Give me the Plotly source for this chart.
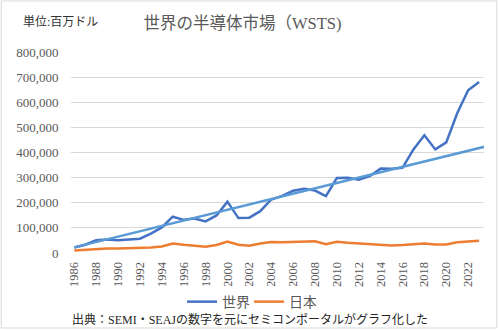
import plotly.graph_objects as go

years = list(range(1986, 2024))
world = [22000, 33000, 50500, 54000, 50500, 54600, 57000, 77300, 101900, 144400,
         132000, 137200, 125600, 149400, 204400, 139000, 140700, 166400, 213000, 227500,
         247700, 255600, 248600, 226300, 298300, 299500, 291600, 305600, 335800, 335200,
         338900, 412200, 468800, 412300, 440400, 555900, 648000, 681000]
japan = [10000, 13000, 16000, 18000, 18000, 19000, 19000, 22000, 26000, 38000,
         33000, 30000, 25000, 32000, 46000, 33000, 29000, 38000, 44000, 43000,
         45000, 47000, 47000, 35000, 45000, 41000, 38000, 34000, 34000, 30000,
         32000, 34000, 38000, 34000, 34000, 43000, 47000, 49000]
# linear trendline of 世界 (start and end)
trend_x = [1986, 2023.8]
trend_y = [22500, 426000]
y_ticks = [0, 100000, 200000, 300000, 400000, 500000, 600000, 700000, 800000]
x_ticks = list(range(1986, 2024, 2))

serif = "Liberation Serif, Noto Sans CJK JP, serif"

fig = go.Figure()
fig.add_trace(go.Scatter(x=years, y=world, mode="lines", name="世界",
                         line=dict(color="#4472C4", width=2.5)))
fig.add_trace(go.Scatter(x=years, y=japan, mode="lines", name="日本",
                         line=dict(color="#ED7D31", width=2.5)))
fig.add_trace(go.Scatter(x=trend_x, y=trend_y, mode="lines", showlegend=False,
                         line=dict(color="#5B9BD5", width=2.5)))

fig.update_layout(
    width=500, height=331,
    margin=dict(l=71, r=16, t=52, b=78, autoexpand=False),
    paper_bgcolor="white", plot_bgcolor="white",
    font=dict(family=serif, color="#595959"),
    title=dict(text="世界の半導体市場（WSTS)", x=0.485, xanchor="center",
               y=0.93, yanchor="middle", font=dict(size=16.5, color="#595959")),
    showlegend=True,
    legend=dict(orientation="h", x=0.431, xanchor="center", y=-0.244, yanchor="middle",
                font=dict(size=14, color="#595959"), itemwidth=30,
                entrywidth=22, entrywidthmode="pixels"),
    xaxis=dict(range=[1985.7, 2023.45], tickmode="array", tickvals=x_ticks,
               tickangle=-90, showgrid=False, zeroline=False, automargin=False,
               showline=False, ticks="outside", ticklen=3,
               tickcolor="rgba(0,0,0,0)",
               tickfont=dict(size=12.5, color="#595959")),
    yaxis=dict(range=[0, 800000], tickmode="array", tickvals=y_ticks,
               tickformat=",", showgrid=True, gridcolor="#D9D9D9", gridwidth=1,
               zeroline=False, showline=False, ticks="outside", ticklen=9,
               tickcolor="rgba(0,0,0,0)",
               automargin=False, tickfont=dict(size=13, color="#595959")),
    annotations=[
        dict(text="単位:百万ドル", xref="paper", yref="paper", x=-0.12, y=1.149,
             xanchor="left", yanchor="middle", showarrow=False,
             font=dict(size=12, color="#333333")),
        dict(text="出典：SEMI・SEAJの数字を元にセミコンポータルがグラフ化した",
             xref="paper", yref="paper", x=0.433, y=-0.333, xanchor="center",
             yanchor="middle", showarrow=False,
             font=dict(size=12, color="#262626")),
    ],
    shapes=[dict(type="rect", xref="paper", yref="paper", x0=-0.169, x1=1.031,
                 y0=-0.373, y1=1.254, line=dict(color="#D9D9D9", width=1))],
)
fig.write_html("out.html")
